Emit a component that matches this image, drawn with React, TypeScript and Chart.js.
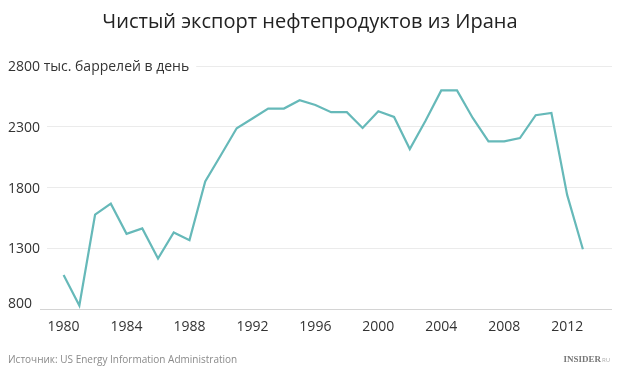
import React, { useEffect, useRef } from "react";
import { Chart, registerables } from "chart.js";

Chart.register(...registerables);

const title = "Чистый экспорт нефтепродуктов из Ирана";
const unitLabel = "тыс. баррелей в день";
const source = "Источник: US Energy Information Administration";
const brand = "INSIDER";

const years = [
  1980, 1981, 1982, 1983, 1984, 1985, 1986, 1987, 1988, 1989, 1990, 1991,
  1992, 1993, 1994, 1995, 1996, 1997, 1998, 1999, 2000, 2001, 2002, 2003,
  2004, 2005, 2006, 2007, 2008, 2009, 2010, 2011, 2012, 2013,
];
const exportsValues = [
  1081, 830, 1577, 1668, 1420, 1464, 1216, 1431, 1368, 1850, 2068, 2288,
  2368, 2450, 2450, 2519, 2480, 2420, 2420, 2290, 2428, 2381, 2117, 2350,
  2599, 2599, 2373, 2180, 2180, 2207, 2395, 2414, 1740, 1293,
];
const xTicks = [1980, 1984, 1988, 1992, 1996, 2000, 2004, 2008, 2012];
const yTicks = [800, 1300, 1800, 2300, 2800];

const FONT = "'Open Sans', 'Noto Sans', sans-serif";

export default function App() {
  const ref = useRef<HTMLCanvasElement | null>(null);

  useEffect(() => {
    document.body.style.margin = "0";
    const canvas = ref.current;
    if (!canvas) return;

    const decor = {
      id: "decor",
      afterDraw(chart: any) {
        const ctx = chart.ctx;
        const y = chart.scales.y;
        ctx.save();
        // title
        ctx.fillStyle = "#222";
        ctx.font = `20px ${FONT}`;
        ctx.textAlign = "center";
        ctx.textBaseline = "middle";
        ctx.fillText(title, 310, 22);
        // y labels with white backing
        ctx.font = `14px ${FONT}`;
        ctx.textAlign = "left";
        yTicks.forEach((v) => {
          const py = y.getPixelForValue(v);
          const txt = v === 2800 ? `${v} ${unitLabel}` : `${v}`;
          const w = ctx.measureText(txt).width;
          if (v !== 800) {
            ctx.fillStyle = "#fff";
            ctx.fillRect(0, py - 3, 8 + w + 7, 6);
          }
          ctx.fillStyle = "#333";
          ctx.fillText(txt, 8, v === 800 ? py - 5 : py + 1);
        });
        // footer
        ctx.font = `10px ${FONT}`;
        ctx.fillStyle = "#8a8a8a";
        ctx.textAlign = "left";
        ctx.fillText(source, 8, 360);
        ctx.font = `bold 9px 'Liberation Serif', serif`;
        ctx.fillStyle = "#777";
        ctx.textAlign = "right";
        ctx.fillText(brand, 601, 360);
        ctx.font = `6px ${FONT}`;
        ctx.fillStyle = "#aaa";
        ctx.textAlign = "left";
        ctx.fillText("RU", 602, 360);
        ctx.restore();
      },
    };

    const chart = new Chart(canvas, {
      type: "line",
      data: {
        datasets: [
          {
            data: years.map((yr, i) => ({ x: yr, y: exportsValues[i] })),
            borderColor: "#66b9b9",
            borderWidth: 2.2,
            pointRadius: 0,
            tension: 0,
            fill: false,
          },
        ],
      },
      options: {
        animation: false,
        responsive: false,
        layout: { padding: { left: 40, right: 8, top: 66, bottom: 33 } },
        plugins: {
          legend: { display: false },
          tooltip: { enabled: false },
        },
        scales: {
          x: {
            type: "linear",
            min: 1978.5,
            max: 2014.85,
            afterBuildTicks: (s: any) => {
              s.ticks = xTicks.map((v) => ({ value: v }));
            },
            grid: {
              display: true,
              drawOnChartArea: false,
              drawTicks: false,
              color: "#ddd",
            },
            border: { display: false },
            ticks: {
              color: "#333",
              font: { family: FONT, size: 14 },
              padding: 9,
              maxRotation: 0,
              autoSkip: false,
              callback: (v: any) => String(v),
            },
          },
          y: {
            type: "linear",
            min: 800,
            max: 2800,
            afterBuildTicks: (s: any) => {
              s.ticks = yTicks.map((v) => ({ value: v }));
            },
            position: "left",
            grid: {
              color: (c: any) => (c.tick && c.tick.value === 800 ? "#d4d4d4" : "#ebebeb"),
              lineWidth: 1,
              drawTicks: false,
            },
            border: { display: false },
            ticks: { display: false },
          },
        },
      },
      plugins: [decor],
    } as any);

    return () => chart.destroy();
  }, []);

  return (
    <div style={{ position: "absolute", left: 0, top: 0, width: 620, height: 377, background: "#fff" }}>
      <canvas ref={ref} width={620} height={377} style={{ width: 620, height: 377 }} />
    </div>
  );
}
